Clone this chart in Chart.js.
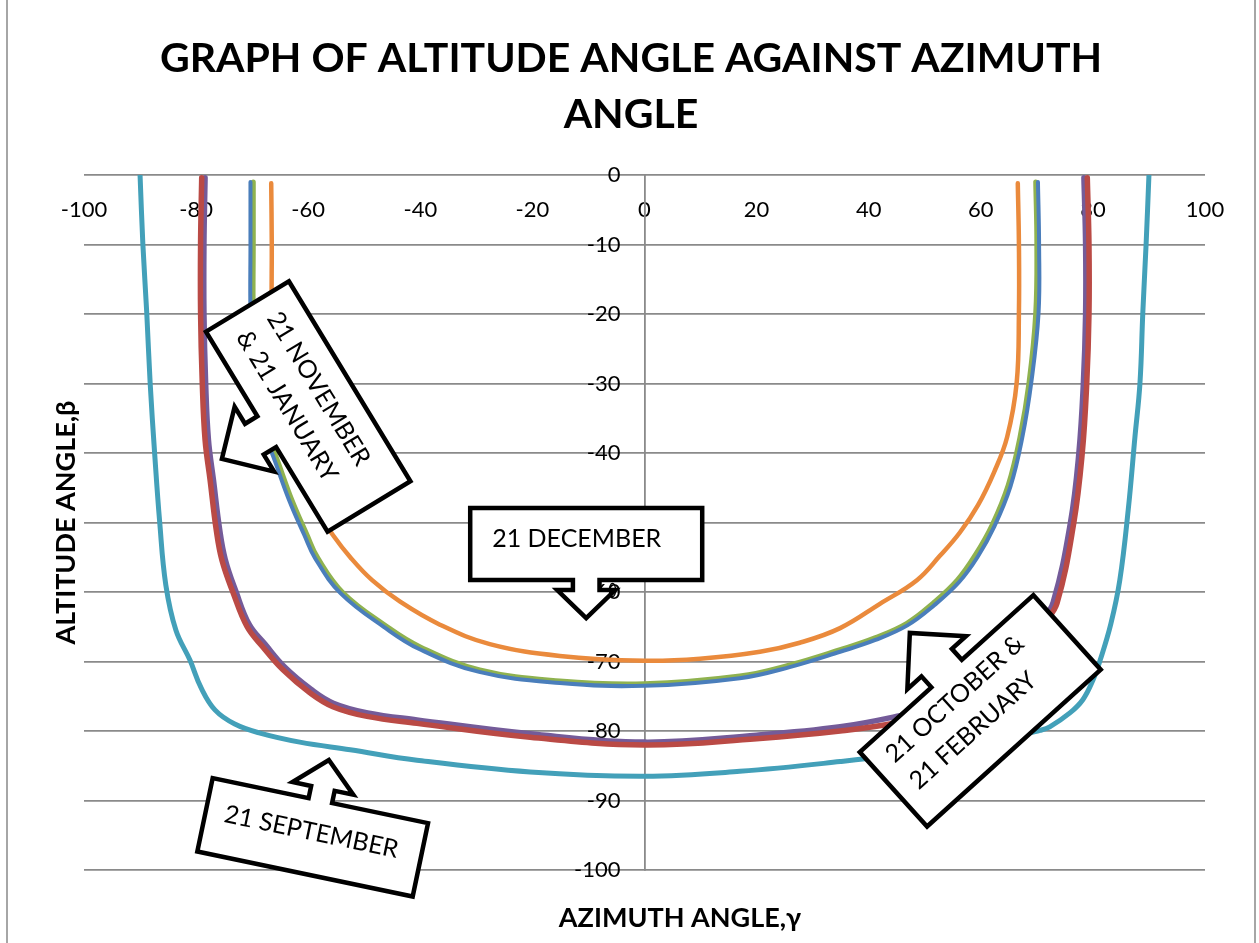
<!DOCTYPE html>
<html>
<head>
<meta charset="utf-8">
<title>Altitude angle against azimuth angle</title>
<script src="https://cdn.jsdelivr.net/npm/chart.js@4/dist/chart.umd.min.js"></script>
<style>
  html, body { margin: 0; padding: 0; background: #ffffff; }
  canvas { display: block; }
</style>
</head>
<body>
<canvas id="sunpath" width="1259" height="943"></canvas>
<script>
// Tick labels
const azimuthTicks = [-100, -80, -60, -40, -20, 0, 20, 40, 60, 80, 100];
const altitudeTicks = [0, -10, -20, -30, -40, -50, -60, -70, -80, -90, -100];

// 21 January (azimuth, altitude), traced sunrise side -> noon -> sunset side
const janAz  = [-70.3, -70.3, -70.3, -69.8, -68.6, -66.2, -63.4, -60.7, -58.8, -54.2, -46.2, -40.2, -29.5, -15.1, 0, 17.0, 25.9, 34.9, 41.2, 46.9, 51.7, 56.1, 59.4, 62.4, 65.3, 67.4, 69.0, 70.3, 70.4, 70.2];
const janAlt = [-1.0, -9.9, -19.9, -29.9, -35.5, -40.6, -46.8, -51.8, -55.1, -60.2, -65.2, -68.2, -71.5, -73.1, -73.5, -72.4, -70.8, -68.6, -66.9, -64.8, -61.9, -58.6, -55.0, -50.6, -44.8, -37.8, -29.9, -19.9, -9.9, -1.0];

// 21 February
const febAz  = [-79.0, -79.2, -79.2, -78.9, -78.4, -77.5, -76.4, -75.4, -73.4, -70.9, -68.1, -64.5, -59.7, -55.6, -49.5, -40.6, -20.4, 0, 20.0, 34.9, 45.6, 55.5, 60.0, 64.8, 68.5, 71.3, 73.6, 76.6, 78.1, 78.9, 79.3, 79.3, 79.0];
const febAlt = [-0.4, -9.9, -19.9, -29.9, -38.1, -43.9, -51.1, -55.4, -60.1, -65.0, -67.9, -71.2, -74.5, -76.5, -77.9, -78.9, -80.9, -82.0, -81.1, -80.0, -78.7, -76.5, -74.3, -71.0, -67.5, -64.5, -61.6, -50.0, -40.0, -30.0, -20.0, -10.0, -0.4];

// 21 November
const novAz  = [-69.8, -69.8, -69.8, -69.3, -68.1, -65.7, -62.9, -60.2, -58.3, -53.8, -45.9, -40.0, -29.4, -15.1, 0, 17.0, 25.9, 34.9, 41.1, 46.8, 51.5, 55.8, 59.0, 62.0, 64.9, 67.0, 68.6, 69.8, 70.0, 69.8];
const novAlt = [-1.0, -9.9, -19.9, -29.9, -35.5, -40.6, -46.8, -51.8, -55.1, -60.1, -65.0, -67.9, -71.2, -72.8, -73.2, -72.1, -70.5, -68.3, -66.6, -64.5, -61.6, -58.3, -54.7, -50.4, -44.6, -37.7, -29.9, -19.9, -9.9, -1.0];

// 21 October
const octAz  = [-78.4, -78.6, -78.6, -78.3, -77.8, -76.9, -75.8, -74.8, -72.9, -70.5, -67.7, -64.2, -59.5, -55.5, -49.4, -40.6, -20.4, 0, 20.0, 34.9, 45.6, 55.3, 59.8, 64.5, 68.1, 70.8, 72.9, 76.0, 77.5, 78.3, 78.7, 78.7, 78.4];
const octAlt = [-0.4, -9.9, -19.9, -29.9, -38.1, -43.9, -51.0, -55.3, -59.9, -64.7, -67.5, -70.8, -74.0, -76.0, -77.4, -78.4, -80.4, -81.6, -80.6, -79.4, -77.8, -75.9, -73.8, -70.5, -67.1, -64.2, -61.5, -50.0, -40.0, -30.0, -20.0, -10.0, -0.4];

// 21 September
const sepAz  = [-90.0, -89.5, -88.8, -88.2, -87.4, -86.5, -85.4, -83.6, -81.1, -79.1, -76.6, -73.1, -68.6, -61.5, -52.5, -40.6, -20.4, 0, 17.0, 34.9, 52.7, 63.4, 70.6, 72.3, 75.9, 78.2, 80.0, 81.3, 83.2, 84.8, 86.3, 87.5, 88.4, 88.9, 89.5, 90.0];
const sepAlt = [0, -9.9, -19.9, -29.9, -40.0, -49.9, -59.0, -65.5, -69.8, -73.8, -77.0, -79.0, -80.3, -81.6, -82.7, -84.2, -85.9, -86.5, -85.8, -84.4, -82.7, -81.3, -79.9, -79.4, -77.4, -75.5, -72.7, -69.8, -64.6, -58.3, -48.2, -37.7, -29.9, -19.9, -9.8, 0];

// 21 December
const decAz  = [-66.6, -66.5, -66.5, -66.1, -65.2, -63.2, -60.6, -57.9, -55.6, -52.5, -48.6, -43.6, -36.5, -27.6, -15.1, 0, 9.9, 20.6, 27.7, 34.9, 42.0, 48.6, 52.7, 56.3, 59.5, 62.4, 64.7, 66.4, 66.8, 66.8, 66.6];
const decAlt = [-1.2, -9.9, -19.9, -29.9, -35.3, -40.3, -45.3, -48.9, -51.8, -55.0, -58.3, -61.4, -64.7, -67.5, -69.2, -69.9, -69.6, -68.6, -67.3, -65.2, -61.7, -58.3, -54.8, -51.4, -47.5, -42.7, -37.7, -29.9, -19.9, -9.9, -1.2];

const seriesList = [
  { label: '21 JANUARY',   az: janAz, alt: janAlt, color: '#4A7EBB', width: 4 },
  { label: '21 FEBRUARY',  az: febAz, alt: febAlt, color: '#BA4A45', width: 5.5 },
  { label: '21 NOVEMBER',  az: novAz, alt: novAlt, color: '#8FB24F', width: 5 },
  { label: '21 OCTOBER',   az: octAz, alt: octAlt, color: '#745B99', width: 5.5 },
  { label: '21 SEPTEMBER', az: sepAz, alt: sepAlt, color: '#43A0B9', width: 5 },
  { label: '21 DECEMBER',  az: decAz, alt: decAlt, color: '#EA8A3C', width: 4.5 }
];

// Arrow callouts: anchored in chart units, sizes in pixels.
// side = 1 -> arrow on the lower edge of the box, -1 -> on the upper edge.
const callouts = [
  { lines: ['21 NOVEMBER', '& 21 JANUARY'], at: [-60.0, -33.3], angle: 58.7,
    w: 117, h: 48.5, side: 1, stem: 18, neck: 63, head: 38, tip: 101, textU: -97, textV: [-19, 17] },
  { lines: ['21 DECEMBER'], at: [-10.4, -53.1], angle: 0,
    w: 116, h: 36, side: 1, stem: 13.3, neck: 46, head: 29, tip: 74, textU: -94, textV: [-6.5], handle: true },
  { lines: ['21 SEPTEMBER'], at: [-59.2, -95.3], angle: 11.8,
    w: 110, h: 37.5, side: -1, stem: 12, neck: 50, head: 31, tip: 79, textU: -91, textV: [-6] },
  { lines: ['21 OCTOBER &', '21 FEBRUARY'], at: [59.9, -77.1], angle: -42.1,
    w: 117, h: 50.2, side: -1, stem: 20.5, neck: 65, head: 39.5, tip: 105, textU: -99, textV: [-27, 9] }
];

const TEXT_FONT = 'Lato, "Open Sans", sans-serif';
const TICK_FONT_SIZE = 22;
const Y_LABEL_GAP = 24;

const framePlugin = {
  id: 'frameAndTitles',
  beforeDraw(chart) {
    const ctx = chart.ctx;
    ctx.save();
    ctx.fillStyle = '#ffffff';
    ctx.fillRect(0, 0, chart.width, chart.height);
    ctx.strokeStyle = '#a6a6a6';
    ctx.lineWidth = 2;
    ctx.beginPath();
    ctx.moveTo(7, 0); ctx.lineTo(7, chart.height);
    ctx.moveTo(1255, 0); ctx.lineTo(1255, chart.height);
    ctx.stroke();
    ctx.restore();
  },
  beforeDatasetsDraw(chart) {
    // altitude tick labels sit a little to the left of the vertical axis line
    const ctx = chart.ctx;
    const xs = chart.scales.x, ys = chart.scales.y;
    const x0 = xs.getPixelForValue(0) - Y_LABEL_GAP;
    ctx.save();
    ctx.font = TICK_FONT_SIZE + 'px ' + TEXT_FONT;
    ctx.fillStyle = '#000000';
    ctx.textAlign = 'right';
    ctx.textBaseline = 'middle';
    ys.ticks.forEach(t => ctx.fillText(String(t.value), x0, ys.getPixelForValue(t.value)));
    ctx.restore();
  },
  afterDraw(chart) {
    const ctx = chart.ctx;
    const area = chart.chartArea;
    ctx.save();
    ctx.fillStyle = '#000000';
    ctx.textAlign = 'center';
    ctx.textBaseline = 'alphabetic';
    // chart title, two lines
    ctx.font = 'bold 41px ' + TEXT_FONT;
    ctx.fillText('GRAPH OF ALTITUDE ANGLE AGAINST AZIMUTH', 631, 72);
    ctx.fillText('ANGLE', 631, 128);
    // axis titles
    ctx.font = 'bold 27px ' + TEXT_FONT;
    ctx.fillText('AZIMUTH ANGLE,\u03B3', 680, 927);
    ctx.translate(75, (area.top + area.bottom) / 2);
    ctx.rotate(-Math.PI / 2);
    ctx.fillText('ALTITUDE ANGLE,\u03B2', 0, 0);
    ctx.restore();

    // callouts on top of everything
    const xs = chart.scales.x, ys = chart.scales.y;
    callouts.forEach(c => drawCallout(ctx, c, xs, ys));
  }
};

function drawCallout(ctx, c, xs, ys) {
  const cx = xs.getPixelForValue(c.at[0]);
  const cy = ys.getPixelForValue(c.at[1]);
  const s = c.side;
  const pts = [
    [-c.w, -c.h * s], [c.w, -c.h * s], [c.w, c.h * s],
    [c.stem, c.h * s], [c.stem, c.neck * s], [c.head, c.neck * s],
    [0, c.tip * s],
    [-c.head, c.neck * s], [-c.stem, c.neck * s], [-c.stem, c.h * s],
    [-c.w, c.h * s]
  ];
  ctx.save();
  ctx.translate(cx, cy);
  ctx.rotate(c.angle * Math.PI / 180);
  ctx.beginPath();
  pts.forEach((p, i) => (i ? ctx.lineTo(p[0], p[1]) : ctx.moveTo(p[0], p[1])));
  ctx.closePath();
  ctx.fillStyle = '#ffffff';
  ctx.fill();
  ctx.lineJoin = 'miter';
  ctx.lineWidth = 4.5;
  ctx.strokeStyle = '#000000';
  ctx.stroke();
  if (c.handle) {
    ctx.beginPath();
    ctx.ellipse(c.stem + 13, c.h + 10, 3, 6.5, 0, 0, Math.PI * 2);
    ctx.lineWidth = 1.5;
    ctx.stroke();
  }
  ctx.fillStyle = '#000000';
  ctx.font = '25px ' + TEXT_FONT;
  ctx.textAlign = 'left';
  ctx.textBaseline = 'alphabetic';
  const capHalf = 25 * 0.36;
  c.lines.forEach((line, i) => ctx.fillText(line, c.textU, c.textV[i] + capHalf));
  ctx.restore();
}

const datasets = seriesList.map(s => ({
  label: s.label,
  data: s.az.map((a, i) => ({ x: a, y: s.alt[i] })),
  borderColor: s.color,
  backgroundColor: s.color,
  borderWidth: s.width,
  showLine: true,
  fill: false,
  tension: 0.4,
  pointRadius: 0,
  pointHoverRadius: 0,
  borderCapStyle: 'round',
  borderJoinStyle: 'round'
}));

new Chart(document.getElementById('sunpath'), {
  type: 'scatter',
  data: { datasets },
  options: {
    responsive: false,
    animation: false,
    layout: { padding: { left: 84, right: 54, top: 175, bottom: 73 } },
    plugins: {
      legend: { display: false },
      title: { display: false },
      tooltip: { enabled: false }
    },
    scales: {
      x: {
        type: 'linear',
        position: { y: 0 },
        min: -100, max: 100,
        afterBuildTicks: scale => { scale.ticks = azimuthTicks.map(v => ({ value: v })); },
        grid: { display: false, drawTicks: false },
        border: { display: false },
        ticks: { font: { family: TEXT_FONT, size: TICK_FONT_SIZE }, color: '#000000', padding: 22, maxRotation: 0, autoSkip: false }
      },
      y: {
        type: 'linear',
        position: { x: 0 },
        min: -100, max: 0,
        afterBuildTicks: scale => { scale.ticks = altitudeTicks.map(v => ({ value: v })); },
        grid: { color: '#8a8a8a', lineWidth: 1.8, drawTicks: false },
        border: { display: true, color: '#8a8a8a', width: 1.8 },
        ticks: { display: false }
      }
    }
  },
  plugins: [framePlugin]
});
</script>
</body>
</html>
